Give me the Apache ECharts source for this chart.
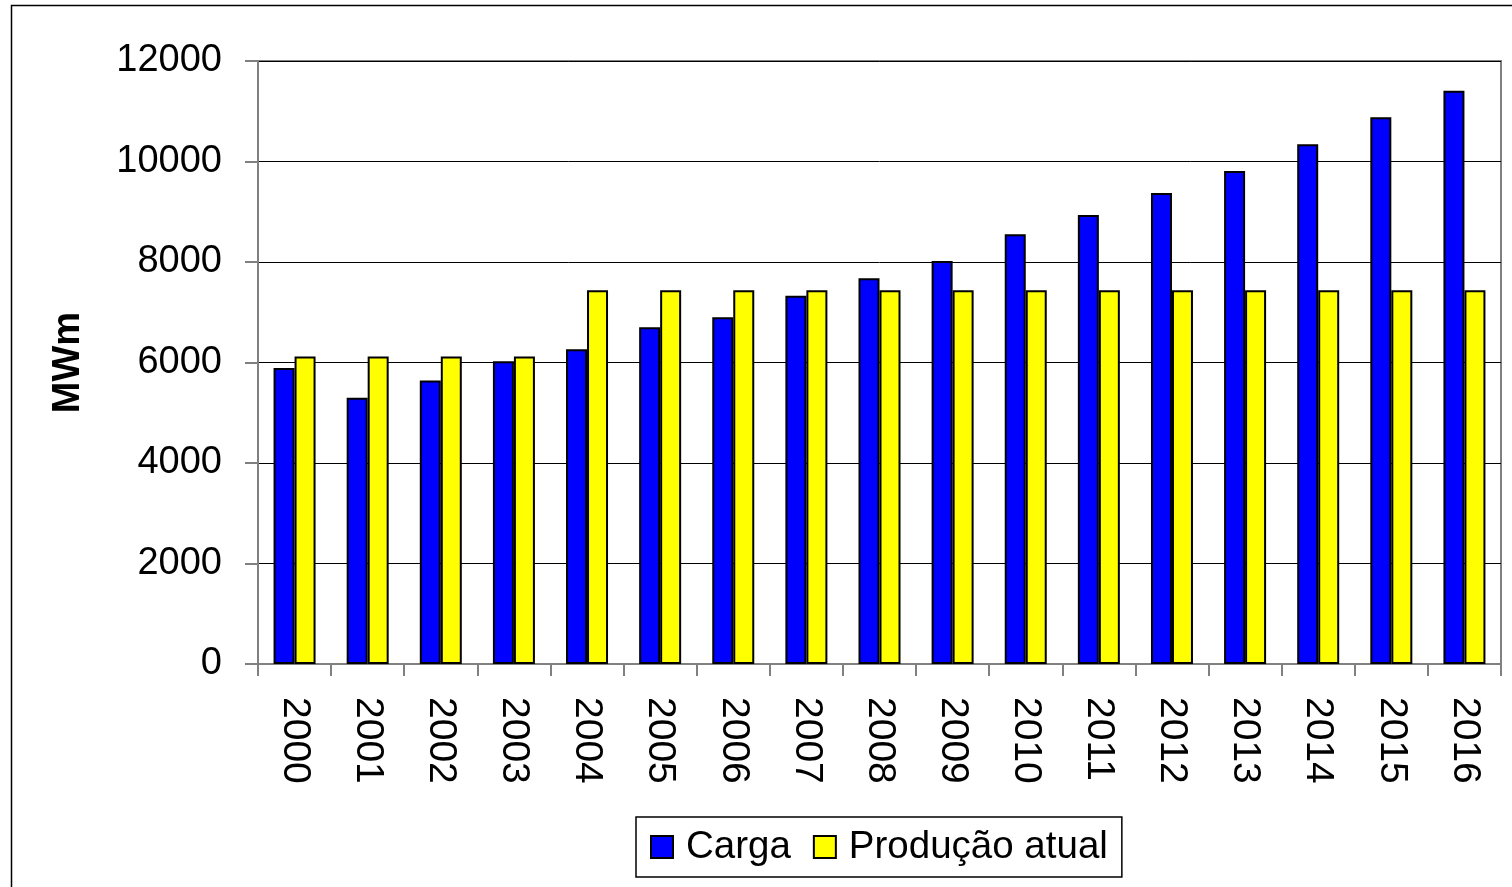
<!DOCTYPE html>
<html>
<head>
<meta charset="utf-8">
<script src="https://cdn.jsdelivr.net/npm/echarts@6/dist/echarts.min.js"></script>
<style>
html, body { margin: 0; padding: 0; background: #fff; }
#main { width: 1512px; height: 887px; }
</style>
</head>
<body>
<div id="main"></div>
<script>
// dados do grafico
var anos = ['2000', '2001', '2002', '2003', '2004', '2005', '2006', '2007', '2008',
            '2009', '2010', '2011', '2012', '2013', '2014', '2015', '2016'];
var carga = [5890, 5300, 5640, 6025, 6265, 6700, 6900, 7330, 7675,
             8020, 8550, 8935, 9375, 9810, 10345, 10880, 11410];
var producao = [6120, 6120, 6120, 6120, 7440, 7440, 7440, 7440, 7440,
                7440, 7440, 7440, 7440, 7440, 7440, 7440, 7440];
var nomes = ['Carga', 'Produção atual'];

var fonte = 'Liberation Sans, Arial, sans-serif';

function estiloBarra(cor) {
	return {
		color: cor,
		borderColor: '#000',
		borderWidth: 2
	};
}

var myChart = echarts.init(document.getElementById('main'));

var option = {
	backgroundColor: '#fff',
	animation: false,
	textStyle: { fontFamily: fonte },
	graphic: [{
		type: 'rect',
		shape: { x: 11.5, y: 5.5, width: 1520, height: 900 },
		style: { fill: 'none', stroke: '#000', lineWidth: 1.5 },
		silent: true
	}],
	grid: {
		left: 258,
		top: 61,
		right: 11,
		bottom: 223,
		show: true,
		borderColor: '#808080',
		borderWidth: 2,
		backgroundColor: 'transparent'
	},
	legend: {
		data: nomes,
		left: 636,
		top: 817,
		padding: [8, 14, 8, 14],
		itemGap: 22,
		itemWidth: 22,
		itemHeight: 22,
		icon: 'rect',
		borderColor: '#000',
		borderWidth: 1.5,
		borderRadius: 0,
		textStyle: {
			fontFamily: fonte,
			fontSize: 38.5,
			color: '#000',
			lineHeight: 44,
			padding: [0, 0, 0, 8]
		}
	},
	xAxis: {
		type: 'category',
		data: anos,
		boundaryGap: true,
		axisLine: { lineStyle: { color: '#808080', width: 2 } },
		axisTick: { show: true, interval: 0, length: 12, lineStyle: { color: '#808080', width: 2 } },
		axisLabel: {
			interval: 0,
			rotate: -90,
			margin: 33,
			fontSize: 39,
			fontFamily: fonte,
			color: '#000'
		}
	},
	yAxis: {
		type: 'value',
		min: 0,
		max: 12000,
		interval: 2000,
		name: 'MWm',
		nameLocation: 'middle',
		nameRotate: 90,
		nameGap: 170,
		nameTextStyle: { fontFamily: fonte, fontSize: 38, fontWeight: 'bold', color: '#000' },
		axisLine: { show: true, lineStyle: { color: '#808080', width: 2 } },
		axisTick: { show: true, length: 13, lineStyle: { color: '#808080', width: 2 } },
		axisLabel: {
			margin: 36,
			fontSize: 38,
			fontFamily: fonte,
			color: '#000',
			formatter: function (v) { return String(v); }
		},
		splitLine: { show: true, lineStyle: { color: '#000', width: 1 } }
	},
	series: [{
		name: nomes[0],
		type: 'bar',
		barWidth: 21,
		barGap: '0%',
		itemStyle: estiloBarra('#0000ff'),
		data: carga
	}, {
		name: nomes[1],
		type: 'bar',
		barWidth: 21,
		barGap: '0%',
		itemStyle: estiloBarra('#ffff00'),
		data: producao
	}]
};

myChart.setOption(option);
</script>
</body>
</html>
